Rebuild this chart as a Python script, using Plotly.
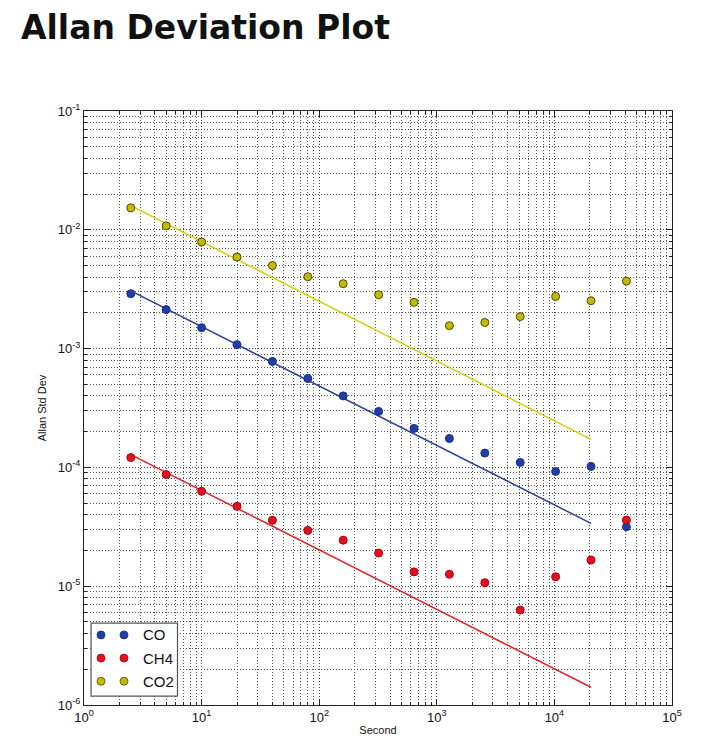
import plotly.graph_objects as go

# ---- data ----
tau = [2.5, 5, 10, 20, 40, 80, 160, 320, 640, 1280, 2560, 5120, 10240, 20480, 40960]
co = [0.0029, 0.00213, 0.0015, 0.00108, 0.00078, 0.00056, 0.00040, 0.000296,
      0.000213, 0.000175, 0.000132, 0.000110, 0.0000925, 0.000102, 0.0000316]
ch4 = [1.21e-4, 8.7e-5, 6.3e-5, 4.7e-5, 3.59e-5, 2.95e-5, 2.44e-5, 1.9e-5,
       1.32e-5, 1.26e-5, 1.07e-5, 6.3e-6, 1.2e-5, 1.66e-5, 3.6e-5]
co2 = [0.0153, 0.0108, 0.0079, 0.0059, 0.0050, 0.00403, 0.00352, 0.00284,
       0.00245, 0.00156, 0.00166, 0.00186, 0.00275, 0.00253, 0.0037]

fit_tau = [2.5, 20480]
co_fit = [0.00306, 3.38e-5]
ch4_fit = [1.28e-4, 1.41e-6]
co2_fit = [0.0160, 1.72e-4]

x_tickvals = [1, 10, 100, 1000, 10000, 100000]
x_ticktext = ["10<sup>0</sup>", "10<sup>1</sup>", "10<sup>2</sup>",
              "10<sup>3</sup>", "10<sup>4</sup>", "10<sup>5</sup>"]
y_tickvals = [1e-6, 1e-5, 1e-4, 1e-3, 1e-2, 1e-1]
y_ticktext = ["10<sup>-6</sup>", "10<sup>-5</sup>", "10<sup>-4</sup>",
              "10<sup>-3</sup>", "10<sup>-2</sup>", "10<sup>-1</sup>"]

names = ["CO", "CH4", "CO2"]
fills = ["#1f3ea8", "#e3101e", "#c2bc00"]
edges = ["#1a2f80", "#b0000e", "#4d4a00"]
lines = ["#2c3f9c", "#e02428", "#d2d000"]

series = [co, ch4, co2]
fits = [co_fit, ch4_fit, co2_fit]

# minor grid positions (2..9 within each decade)
x_minor = [d * m for d in x_tickvals[:-1] for m in range(2, 10)]
y_minor = [d * m for d in y_tickvals[:-1] for m in range(2, 10)]

fig = go.Figure()
for name, vals, fv, fc, ec, lc in zip(names, series, fits, fills, edges, lines):
    fig.add_trace(go.Scatter(x=fit_tau, y=fv, mode="lines",
                             line=dict(color=lc, width=1.5),
                             showlegend=False, hoverinfo="skip"))
for name, vals, fv, fc, ec, lc in zip(names, series, fits, fills, edges, lines):
    fig.add_trace(go.Scatter(x=tau, y=vals, mode="markers", name=name,
                             marker=dict(color=fc, size=8,
                                         line=dict(color=ec, width=1)),
                             showlegend=False))

axis_common = dict(
    type="log", showline=True, linecolor="#222222", linewidth=1, mirror="allticks",
    ticks="inside", ticklen=6, tickcolor="#222222", showgrid=True,
    tickfont=dict(family="Liberation Sans, Arial", size=13, color="#111111"),
    zeroline=False,
    gridcolor="#444444", griddash="1px,2px", gridwidth=1,
)
minor_common = dict(showgrid=True, ticks="inside", ticklen=3, tickcolor="#222222",
                    gridcolor="#555555", griddash="1px,2px", gridwidth=1,
                    tickmode="array")

fig.update_xaxes(range=[0, 5], tickvals=x_tickvals, ticktext=x_ticktext,
                 minor=dict(tickvals=x_minor, **minor_common),
                 title=dict(text="Second", standoff=2,
                            font=dict(family="Liberation Sans, Arial", size=11, color="#111111")),
                 **axis_common)
fig.update_yaxes(range=[-6, -1], tickvals=y_tickvals, ticktext=y_ticktext,
                 minor=dict(tickvals=y_minor, **minor_common),
                 title=dict(text="Allan Std Dev", standoff=8,
                            font=dict(family="Liberation Sans, Arial", size=11, color="#111111")),
                 **axis_common)

# custom legend (matplotlib style, two markers per entry)
shapes = [dict(type="rect", xref="x domain", yref="y domain",
               x0=0.012, x1=0.159, y0=0.015, y1=0.138,
               line=dict(color="#555555", width=1.2), fillcolor="white", layer="above")]
annotations = []
row_y = [0.118, 0.079, 0.040]
for name, fc, ec, ry in zip(names, fills, edges, row_y):
    for cx in [0.0289, 0.068]:
        shapes.append(dict(type="circle", xref="x domain", yref="y domain",
                           x0=cx - 0.0068, x1=cx + 0.0068, y0=ry - 0.0067, y1=ry + 0.0067,
                           fillcolor=fc, line=dict(color=ec, width=0.8), layer="above"))
    annotations.append(dict(xref="x domain", yref="y domain", x=0.097, y=ry,
                            text=name, showarrow=False, xanchor="left", yanchor="middle",
                            font=dict(family="Liberation Sans, Arial", size=15, color="#111111")))

annotations.append(dict(xref="paper", yref="paper", x=-0.111, y=1.141,
                        xanchor="left", yanchor="middle", showarrow=False,
                        text="<b>Allan Deviation Plot</b>",
                        font=dict(family="DejaVu Sans, Liberation Sans, Arial", size=33,
                                  color="#111111")))

fig.update_layout(
    width=703, height=748,
    margin=dict(l=76, r=39, t=103, b=51),
    paper_bgcolor="white", plot_bgcolor="white",
    shapes=shapes, annotations=annotations,
    showlegend=False,
)

fig.write_html("out.html")
